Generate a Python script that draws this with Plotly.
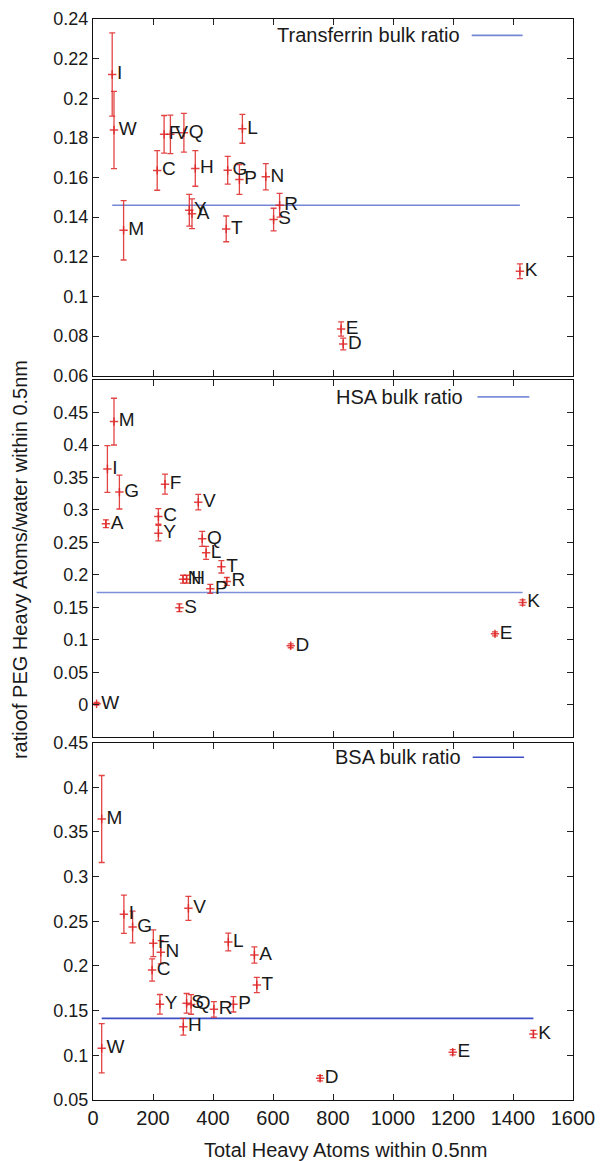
import plotly.graph_objects as go

# ---------------- data ----------------
x_ticks = [0, 200, 400, 600, 800, 1000, 1200, 1400, 1600]

tf_labels = ["I", "W", "M", "C", "F", "V", "Q", "H", "Y", "A", "T", "G", "P", "L", "N", "R", "S", "E", "D", "K"]
tf_x = [64, 70, 102, 214, 237, 258, 303, 341, 321, 330, 444, 449, 488, 498, 576, 622, 602, 827, 834, 1423]
tf_y = [0.212, 0.184, 0.1334, 0.1636, 0.1818, 0.1818, 0.1826, 0.1646, 0.1435, 0.1417, 0.1341, 0.1637,
        0.159, 0.1846, 0.1604, 0.146, 0.1388, 0.0836, 0.076, 0.1127]
tf_err = [0.021, 0.0195, 0.015, 0.01, 0.0095, 0.0097, 0.0098, 0.009, 0.008, 0.0075, 0.0065, 0.007,
          0.0075, 0.0073, 0.0066, 0.006, 0.0057, 0.0036, 0.003, 0.0037]
tf_bulk = 0.146
tf_yticks = [0.06, 0.08, 0.1, 0.12, 0.14, 0.16, 0.18, 0.2, 0.22, 0.24]

hsa_labels = ["M", "I", "G", "A", "F", "C", "Y", "V", "Q", "L", "T", "R", "P", "N", "H", "S", "D", "W", "E", "K"]
hsa_x = [70, 48, 88, 43, 240, 218, 218, 351, 364, 377, 428, 446, 391, 300, 312, 288, 659, 12, 1340, 1432]
hsa_y = [0.436, 0.363, 0.3275, 0.2787, 0.3397, 0.29, 0.2643, 0.312, 0.2556, 0.234, 0.2125, 0.19,
         0.1786, 0.1935, 0.1935, 0.1494, 0.0909, 0.0016, 0.1093, 0.1575]
hsa_err = [0.036, 0.036, 0.026, 0.006, 0.0154, 0.012, 0.012, 0.012, 0.0115, 0.01, 0.0095, 0.006,
           0.007, 0.006, 0.006, 0.006, 0.003, 0.002, 0.003, 0.004]
hsa_bulk = 0.173
hsa_yticks = [0, 0.05, 0.1, 0.15, 0.2, 0.25, 0.3, 0.35, 0.4, 0.45]

bsa_labels = ["M", "W", "I", "G", "F", "N", "C", "V", "L", "A", "T", "Y", "S", "Q", "R", "P", "H", "D", "E", "K"]
bsa_x = [29, 29, 103, 132, 201, 226, 197, 318, 451, 538, 546, 223, 312, 327, 403, 468, 301, 757, 1199, 1468]
bsa_y = [0.3645, 0.1079, 0.2578, 0.2436, 0.2254, 0.2153, 0.1955, 0.2645, 0.2268, 0.2123, 0.1787,
         0.1571, 0.1582, 0.157, 0.1515, 0.1571, 0.132, 0.0743, 0.1034, 0.1239]
bsa_err = [0.0487, 0.0276, 0.0214, 0.0177, 0.015, 0.013, 0.0125, 0.0134, 0.01, 0.009, 0.0086,
           0.011, 0.011, 0.011, 0.0087, 0.0086, 0.0093, 0.003, 0.003, 0.004]
bsa_bulk = 0.1414
bsa_yticks = [0.05, 0.1, 0.15, 0.2, 0.25, 0.3, 0.35, 0.4, 0.45]

# ---------------- styling ----------------
FONT = "Liberation Sans, Arial, Helvetica, sans-serif"
RED = "rgba(222,35,35,0.85)"
TXT = "#1a1a1a"

panels = [
    dict(lab=tf_labels, x=tf_x, y=tf_y, e=tf_err, bulk=tf_bulk, name="Transferrin bulk ratio",
         yt=tf_yticks, yr=[0.06, 0.24], dom=[0.6700, 1.0], line="rgba(70,95,200,0.75)",
         legy=0.954, legtx=0.769, legl=(0.789, 0.895)),
    dict(lab=hsa_labels, x=hsa_x, y=hsa_y, e=hsa_err, bulk=hsa_bulk, name="HSA bulk ratio",
         yt=hsa_yticks, yr=[-0.05, 0.5], dom=[0.3355, 0.6660], line="rgba(70,95,200,0.7)",
         legy=0.953, legtx=0.776, legl=(0.801, 0.909)),
    dict(lab=bsa_labels, x=bsa_x, y=bsa_y, e=bsa_err, bulk=bsa_bulk, name="BSA bulk ratio",
         yt=bsa_yticks, yr=[0.05, 0.45], dom=[0.0, 0.3306], line="rgba(40,60,190,0.9)",
         legy=0.959, legtx=0.770, legl=(0.791, 0.898)),
]

fig = go.Figure()
shapes = []
annotations = []

for i, p in enumerate(panels):
    n = "" if i == 0 else str(i + 1)
    xa, ya = "x" + n, "y" + n
    # bulk ratio line spanning the data's x range
    fig.add_trace(go.Scatter(
        x=[min(p["x"]), max(p["x"])], y=[p["bulk"], p["bulk"]], mode="lines",
        line=dict(color=p["line"], width=1.6), xaxis=xa, yaxis=ya,
        showlegend=False, hoverinfo="skip"))
    # points with error bars and labels
    fig.add_trace(go.Scatter(
        x=p["x"], y=p["y"], mode="markers+text", text=p["lab"],
        textposition="middle right",
        textfont=dict(family=FONT, size=19, color=TXT),
        marker=dict(symbol="cross-thin", size=6, line=dict(color=RED, width=1.5), color=RED),
        error_y=dict(type="data", array=p["e"], visible=True, color=RED, thickness=1.3, width=3),
        xaxis=xa, yaxis=ya, showlegend=False))

    # legend-like key (text + sample line)
    annotations.append(dict(
        xref=xa + " domain", yref=ya + " domain", x=p["legtx"], y=p["legy"],
        xanchor="right", yanchor="middle", text=p["name"], showarrow=False,
        font=dict(family=FONT, size=20, color=TXT)))
    shapes.append(dict(
        type="line", xref=xa + " domain", yref=ya + " domain",
        x0=p["legl"][0], x1=p["legl"][1], y0=p["legy"], y1=p["legy"],
        line=dict(color=p["line"], width=1.6)))

    axis_common = dict(showline=True, linecolor="#111", linewidth=1.4, mirror="ticks",
                       ticks="inside", ticklen=6, tickcolor="#222", tickwidth=1,
                       showgrid=False, zeroline=False, automargin=False)
    fig.layout["xaxis" + n] = dict(
        axis_common, domain=[0, 1], range=[0, 1600], anchor=ya,
        tickvals=x_ticks, ticktext=[str(v) for v in x_ticks],
        showticklabels=(i == 2),
        tickfont=dict(family=FONT, size=20, color=TXT),
        **({} if i == 0 else {"matches": "x"}))
    fig.layout["yaxis" + n] = dict(
        axis_common, domain=p["dom"], range=p["yr"], anchor=xa,
        tickvals=p["yt"], ticktext=[f"{v:g}" for v in p["yt"]],
        tickfont=dict(family=FONT, size=18, color=TXT))

annotations.append(dict(
    xref="paper", yref="paper", x=-0.152, y=0.4995, xanchor="center", yanchor="middle",
    text="ratioof PEG Heavy Atoms/water within 0.5nm", textangle=-90, showarrow=False,
    font=dict(family=FONT, size=20, color=TXT)))
annotations.append(dict(
    xref="paper", yref="paper", x=0.525, y=-0.046, xanchor="center", yanchor="middle",
    text="Total Heavy Atoms within 0.5nm", showarrow=False,
    font=dict(family=FONT, size=20, color=TXT)))

fig.update_layout(
    width=600, height=1161,
    margin=dict(l=93, r=27, t=19, b=61, autoexpand=False),
    paper_bgcolor="white", plot_bgcolor="white",
    shapes=shapes, annotations=annotations,
    showlegend=False,
)

fig.write_html("out.html", config={"displayModeBar": False},
               post_script="document.body.style.margin='0';document.body.style.overflow='hidden';")
